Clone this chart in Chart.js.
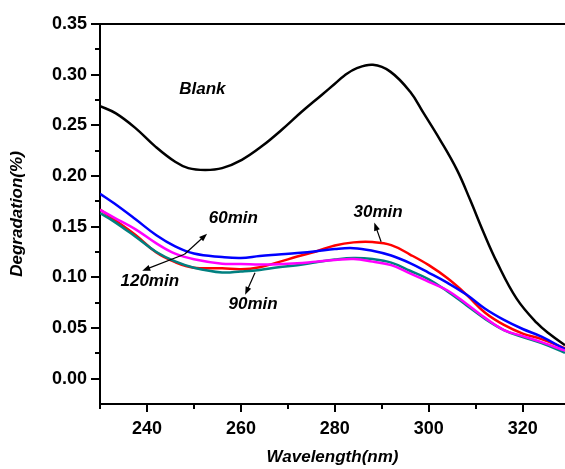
<!DOCTYPE html>
<html><head><meta charset="utf-8">
<script src="https://cdn.jsdelivr.net/npm/chart.js@4.4.1/dist/chart.umd.min.js"></script>
<style>html,body{margin:0;padding:0;background:#fff;overflow:hidden}</style>
</head><body>
<canvas id="c" width="565" height="469"></canvas>
<script>
// ---- data ----
const wavelengths = [230,233,237.5,242,246,250,256,260,264,268,272,276,280,284,288,292,296,300,304,308,312,316,320,324,329];
const min30  = [.167,.157,.142,.1245,.115,.1095,.109,.108,.110,.115,.1205,.1255,.1315,.1345,.1348,.1318,.1225,.112,.099,.083,.065,.053,.0445,.039,.030];
const min60  = [.1825,.173,.1575,.1415,.1305,.1235,.120,.119,.121,.1225,.124,.1258,.128,.1288,.1262,.1215,.114,.1045,.0945,.083,.069,.058,.049,.0415,.029];
const min90  = [.1634,.155,.1403,.125,.1157,.1095,.1048,.1058,.1073,.110,.112,.1148,.1175,.119,.118,.1145,.1065,.098,.086,.0725,.059,.048,.041,.035,.0256];
const min120 = [.1667,.159,.1476,.1335,.1233,.1178,.1134,.1132,.1126,.1128,.1138,.1155,.117,.118,.1155,.112,.104,.0955,.087,.074,.060,.048,.042,.036,.0276];
const blankX = [230,233.3,237.5,241.8,246,248.8,252.4,256,260.2,264.5,268.7,273,277.2,280,282,284.7,288.1,291.8,296,298.9,302.4,306,308.8,311.6,314.5,318.7,323,326,329];
const blankY = [.269,.262,.2475,.229,.214,.2078,.206,.2078,.2160,.2295,.2456,.2636,.280,.291,.299,.3064,.3097,.303,.2833,.262,.2357,.206,.1765,.145,.115,.079,.055,.043,.033];
const xTickLabels = [240,260,280,300,320];
const xMinorTicks = [230,250,270,290,310];
const yTickLabels = [0,0.05,0.10,0.15,0.20,0.25,0.30,0.35];
const yMinorTicks = [0.025,0.075,0.125,0.175,0.225,0.275,0.325];
const labelTexts = ['Blank','60min','30min','120min','90min'];
const labelX = [251.8,258.4,289.2,240.6,262.6];
const labelY = [0.2857,0.1578,0.164,0.096,0.073];
// arrows: tail -> head (data units)
const arrowTailX = [289.85,248.0,248.0,263.0];
const arrowTailY = [0.1351,0.1228,0.1228,0.1045];
const arrowHeadX = [288.4,252.8,239.0,260.9];
const arrowHeadY = [0.154,0.143,0.1065,0.0828];

const FAM = '"Liberation Sans", Arial, sans-serif';
const pts = (xs, ys) => xs.map((x,i)=>({x, y: ys[i]}));

const decor = {
  id:'decor',
  afterDraw(chart){
    const {ctx, chartArea:a, scales:{x:xs, y:ys}} = chart;
    ctx.save();
    ctx.strokeStyle='#000'; ctx.fillStyle='#000'; ctx.lineWidth=2;
    ctx.beginPath(); ctx.moveTo(a.left, a.top); ctx.lineTo(a.right, a.top); ctx.stroke();
    const tick = (v, len, axis) => {
      ctx.beginPath();
      if (axis==='x'){ const p = Math.round(xs.getPixelForValue(v)); ctx.moveTo(p, a.bottom); ctx.lineTo(p, a.bottom+len); }
      else { const p = Math.round(ys.getPixelForValue(v)); ctx.moveTo(a.left, p); ctx.lineTo(a.left-len, p); }
      ctx.stroke();
    };
    xTickLabels.forEach(v=>tick(v,8,'x')); xMinorTicks.forEach(v=>tick(v,5,'x'));
    yTickLabels.forEach(v=>tick(v,9,'y')); yMinorTicks.forEach(v=>tick(v,5,'y'));
    ctx.font = 'italic bold 17px ' + FAM;
    ctx.textAlign='center'; ctx.textBaseline='middle';
    labelTexts.forEach((t,i)=>ctx.fillText(t, xs.getPixelForValue(labelX[i]), ys.getPixelForValue(labelY[i])));
    ctx.lineWidth=1.2;
    arrowTailX.forEach((_,i)=>{
      const x1=xs.getPixelForValue(arrowTailX[i]), y1=ys.getPixelForValue(arrowTailY[i]);
      const x2=xs.getPixelForValue(arrowHeadX[i]), y2=ys.getPixelForValue(arrowHeadY[i]);
      const ang=Math.atan2(y2-y1,x2-x1), L=8, W=3;
      ctx.beginPath(); ctx.moveTo(x1,y1); ctx.lineTo(x2-Math.cos(ang)*L*0.8, y2-Math.sin(ang)*L*0.8); ctx.stroke();
      ctx.beginPath();
      ctx.moveTo(x2,y2);
      ctx.lineTo(x2-Math.cos(ang)*L-Math.sin(ang)*W, y2-Math.sin(ang)*L+Math.cos(ang)*W);
      ctx.lineTo(x2-Math.cos(ang)*L+Math.sin(ang)*W, y2-Math.sin(ang)*L-Math.cos(ang)*W);
      ctx.closePath(); ctx.fill();
    });
    ctx.restore();
  }
};

const ds = (label, data, color) => ({label, data, borderColor:color, backgroundColor:color, borderWidth:2.5, pointRadius:0, fill:false, tension:0.4});

new Chart(document.getElementById('c'), {
  type:'line',
  data:{datasets:[
    ds('120min', pts(wavelengths,min120), '#ff00ff'),
    ds('90min', pts(wavelengths,min90), '#008080'),
    ds('60min', pts(wavelengths,min60), '#0000ff'),
    ds('30min', pts(wavelengths,min30), '#ff0000'),
    ds('Blank', pts(blankX,blankY), '#000000')
  ]},
  options:{
    responsive:false, animation:false, devicePixelRatio:1,
    layout:{padding:{top:24,right:0,left:0,bottom:0}},
    plugins:{legend:{display:false}, tooltip:{enabled:false}},
    scales:{
      x:{type:'linear', min:230, max:329,
        afterBuildTicks:s=>{ s.ticks = xTickLabels.map(v=>({value:v})); },
        afterFit:s=>{ s.height = 65; },
        grid:{display:false, drawTicks:false},
        border:{display:true, color:'#000', width:2},
        ticks:{color:'#000', font:{family:FAM, size:18, weight:'bold'}, padding:14, maxRotation:0, autoSkip:false},
        title:{display:true, text:'Wavelength(nm)', color:'#000', font:{family:FAM, size:17, weight:'bold', style:'italic'}, padding:{top:0,bottom:1}}
      },
      y:{type:'linear', min:-0.025, max:0.35,
        afterBuildTicks:s=>{ s.ticks = yTickLabels.map(v=>({value:v})); },
        afterFit:s=>{ s.width = 100; },
        grid:{display:false, drawTicks:false},
        border:{display:true, color:'#000', width:2},
        ticks:{color:'#000', font:{family:FAM, size:18, weight:'bold'}, padding:13, autoSkip:false, callback:v=>Number(v).toFixed(2)},
        title:{display:true, text:'Degradation(%)', color:'#000', font:{family:FAM, size:17, weight:'bold', style:'italic'}, padding:{top:7,bottom:0}}
      }
    }
  },
  plugins:[decor]
});
</script>
</body></html>
